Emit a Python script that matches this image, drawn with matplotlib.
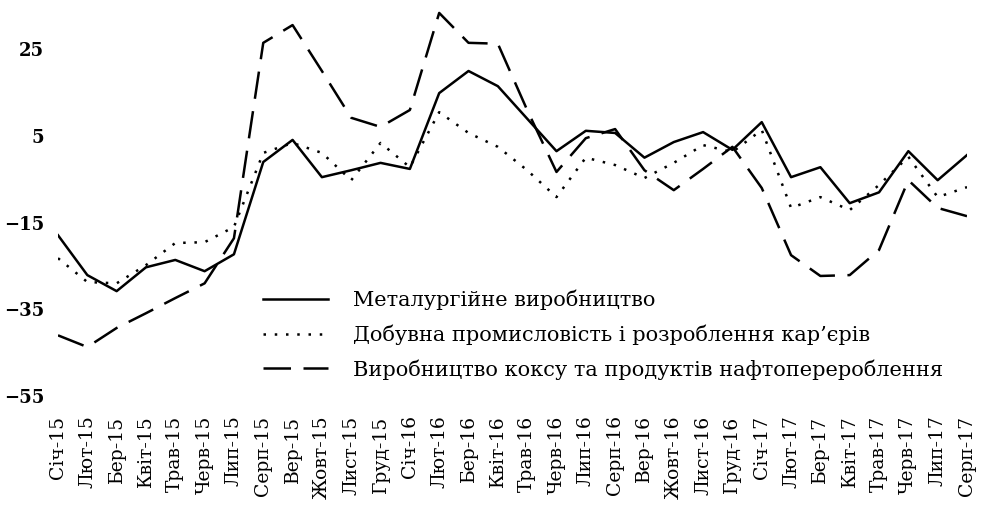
import numpy as np
import matplotlib
matplotlib.use("Agg")
import matplotlib.pyplot as plt

months = ["Січ-15", "Лют-15", "Бер-15", "Квіт-15", "Трав-15", "Черв-15", "Лип-15", "Серп-15",
          "Вер-15", "Жовт-15", "Лист-15", "Груд-15", "Січ-16", "Лют-16", "Бер-16", "Квіт-16",
          "Трав-16", "Черв-16", "Лип-16", "Серп-16", "Вер-16", "Жовт-16", "Лист-16", "Груд-16",
          "Січ-17", "Лют-17", "Бер-17", "Квіт-17", "Трав-17", "Черв-17", "Лип-17", "Серп-17"]

# металургія (суцільна лінія)
metal = [-17.9, -27.1, -30.8, -25.3, -23.6, -26.2, -22.3, -1.0,
         4.1, -4.5, -2.9, -1.2, -2.6, 14.9, 20.0, 16.5,
         9.0, 1.5, 6.2, 5.7, 0.0, 3.6, 5.9, 1.8,
         8.2, -4.5, -2.2, -10.5, -8.0, 1.5, -5.2, 0.6]

# добувна промисловість (пунктир)
mining = [-23.2, -28.7, -29.0, -24.8, -19.7, -19.5, -16.0, 1.1,
          3.4, 1.1, -5.2, 3.4, -2.2, 10.5, 5.7, 2.5,
          -2.9, -9.1, 0.0, -1.7, -4.7, -1.2, 2.9, 1.3,
          6.4, -11.6, -9.1, -12.1, -6.3, 0.2, -9.1, -6.8]

# кокс і нафтопереробка (штрихи)
coke = [-41.0, -43.7, -39.3, -35.9, -32.4, -29.0, -18.6, 26.5,
        30.6, 20.0, 9.2, 7.1, 11.0, 33.4, 26.5, 26.3,
        11.0, -3.3, 4.5, 6.6, -2.9, -7.5, -2.6, 2.5,
        -7.0, -22.5, -27.3, -27.1, -21.3, -5.2, -11.6, -13.5]

labels = ["Металургійне виробництво",
          "Добувна промисловість і розроблення кар’єрів",
          "Виробництво коксу та продуктів нафтоперероблення"]

plt.rcParams['font.family'] = ['DejaVu Serif']

fig = plt.figure(figsize=(9.87, 5.07), dpi=100)
ax = fig.add_axes([58 / 987, 1 - 396 / 507, (967 - 58) / 987, 390 / 507])

x = np.arange(len(months))
ax.plot(x, metal, "-", color="black", lw=1.8, label=labels[0])
ax.plot(x, mining, color="black", lw=1.8, linestyle=(0, (1, 3.5)), label=labels[1])
ax.plot(x, coke, color="black", lw=1.8, linestyle=(0, (11, 5)), label=labels[2])

ax.set_xlim(0, len(months) - 1)
ax.set_ylim(-55, 35)
ax.set_yticks([-55, -35, -15, 5, 25])
ax.set_yticklabels(["−55", "−35", "−15", "5", "25"], fontsize=13, fontweight="semibold")
ax.set_xticks(x)
ax.set_xticklabels(months, rotation=90, fontsize=13.5)
ax.tick_params(axis="x", length=0, pad=14)
ax.tick_params(axis="y", length=0, pad=10)
for s in ax.spines.values():
    s.set_visible(False)

ax.legend(loc="upper left", bbox_to_anchor=(0.226, 0.272), frameon=False,
          fontsize=15, handlelength=3.1, handletextpad=1.2, labelspacing=0.68,
          borderpad=0, borderaxespad=0)

plt.savefig("out.png", dpi=100)
